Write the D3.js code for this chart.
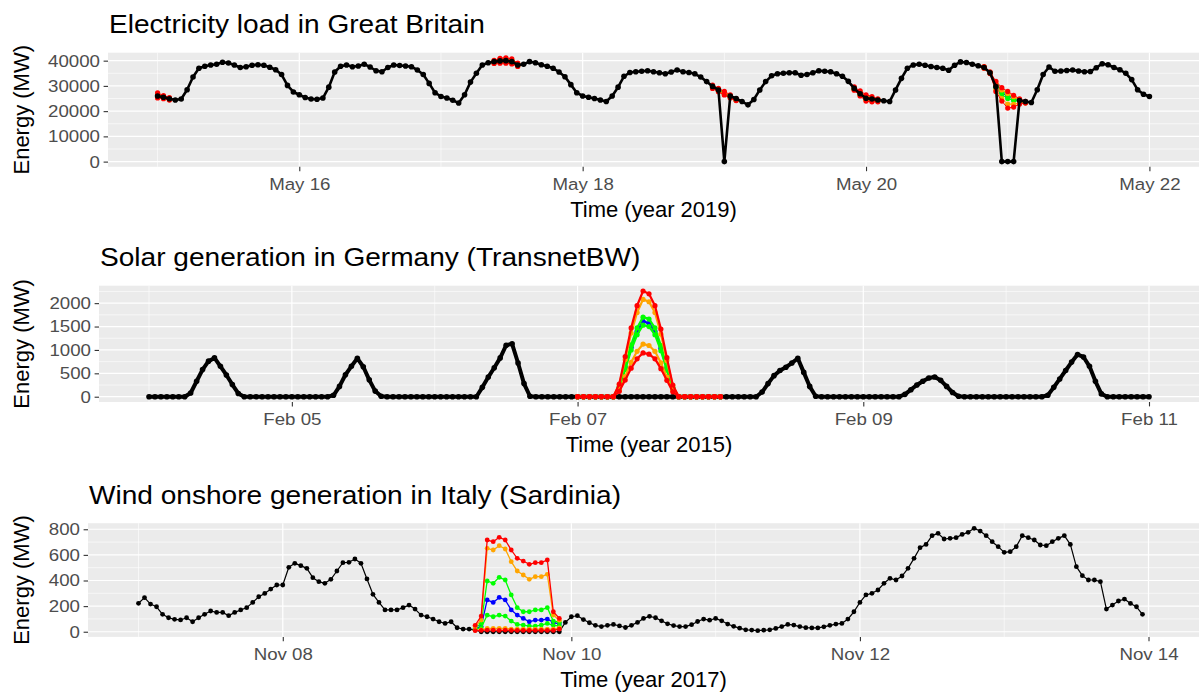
<!DOCTYPE html>
<html>
<head>
<meta charset="utf-8">
<title>Energy forecasts</title>
<script src="https://cdn.jsdelivr.net/npm/d3@7"></script>
<style>
  body { margin: 0; background: #fff; }
  text { font-family: "Liberation Sans", Arial, sans-serif; }
</style>
</head>
<body>
<div id="chart"></div>
<script>
// quantile colours, outer high -> median -> outer low
var quantileColors = ["#ff0000", "#ffa500", "#00ff00", "#0000ff", "#00ff00", "#ffa500", "#ff0000"];

// Great Britain load, hourly from 2019-05-15 00:00
var gbStart = "2019-05-15T00:00:00Z";
var gbLoad = [
  26000, 25500, 24900, 24400, 24800, 28500, 33500, 37000, 37800, 38300, 38600, 39400, 39100, 38300, 37300, 37600, 38200, 38400, 38200, 37400, 36400, 34500, 30200, 27600,
  26500, 25400, 24800, 24700, 25200, 29500, 35500, 37800, 38300, 37600, 37900, 38600, 37500, 36000, 35600, 37300, 38300, 38100, 37900, 37600, 36300, 34500, 31000, 27300,
  25800, 25200, 24300, 23200, 26500, 31500, 35000, 38300, 39200, 39600, 39900, 40000, 39600, 38300, 38600, 39600, 39200, 38400, 37800, 37000, 35500, 33600, 30500, 27300,
  26000, 25500, 25000, 24400, 23800, 26000, 29500, 33800, 35300, 35600, 35800, 36000, 35600, 35200, 34800, 35500, 36300, 35600, 35300, 34800, 33500, 31700, 29800, 28400,
  0, 26000, 25000, 23800, 22500, 24600, 28400, 31700, 34000, 34800, 35000, 35200, 35200, 34200, 34500, 35200, 36000, 35800, 35600, 34800, 33800, 31800, 29000, 26900,
  25100, 24800, 24400, 24100, 23800, 28400, 33000, 37000, 38300, 38600, 38200, 37700, 37300, 37000, 36200, 38200, 39500, 39300, 38600, 38000, 37300, 35200, 29700, 0,
  0, 0, 24200, 23800, 23400, 28500, 34500, 37500, 35800, 35900, 36100, 36300, 35900, 35600, 35700, 37200, 38800, 38400, 37300, 36400, 35000, 32500, 28500, 26700, 25800
];
// [hour, q_hi3, q_hi2, q_hi1, median, q_lo1, q_lo2, q_lo3]
var gbQuant = [
  [0, 27200, 26800, 26400, 26100, 25800, 25500, 25200],
  [1, 26200, 25900, 25700, 25500, 25300, 25100, 24900],
  [2, 25400, 25200, 25000, 24900, 24800, 24600, 24400],
  [57, 40100, 39900, 39700, 39500, 39300, 39100, 38900],
  [58, 40900, 40600, 40200, 39900, 39600, 39300, 39000],
  [59, 41100, 40800, 40400, 40000, 39700, 39300, 39000],
  [60, 40700, 40300, 40000, 39600, 39300, 39000, 38700],
  [61, 39000, 38800, 38500, 38300, 38100, 37900, 37700],
  [94, 30300, 30000, 29800, 29600, 29400, 29200, 29000],
  [95, 29000, 28700, 28500, 28300, 28100, 27900, 27700],
  [96, 27800, 27500, 27200, 27000, 26800, 26600, 26400],
  [97, 26500, 26200, 26000, 25800, 25600, 25400, 25200],
  [98, 25000, 24800, 24600, 24500, 24400, 24300, 24200],
  [118, 29600, 29300, 29100, 28900, 28700, 28500, 28300],
  [119, 28000, 27600, 27200, 26900, 26600, 26300, 26000],
  [120, 26500, 26000, 25500, 25100, 24700, 24300, 24000],
  [121, 25800, 25300, 24900, 24600, 24300, 24000, 23700],
  [122, 24900, 24700, 24500, 24300, 24100, 23900, 23700],
  [140, 37600, 37500, 37400, 37300, 37200, 37100, 37000],
  [141, 35600, 35400, 35300, 35200, 35100, 35000, 34900],
  [142, 31800, 31000, 30300, 29800, 29300, 28500, 27800],
  [143, 29300, 28400, 27800, 27200, 26500, 25000, 24000],
  [144, 27800, 27000, 26400, 25800, 25000, 22800, 21200],
  [145, 26300, 25700, 25200, 24700, 24200, 22700, 21600],
  [146, 24900, 24500, 24300, 24100, 23900, 23300, 22800],
  [147, 23900, 23700, 23600, 23500, 23400, 23300, 23200]
];

// TransnetBW solar, hourly from 2015-02-04 00:00
var deStart = "2015-02-04T00:00:00Z";
var deSolar = [
  0, 0, 0, 0, 0, 0, 0, 80, 330, 580, 760, 830, 650, 465, 260, 70, 0, 0, 0, 0, 0, 0, 0, 0,
  0, 0, 0, 0, 0, 0, 0, 30, 220, 470, 650, 820, 640, 360, 120, 10, 0, 0, 0, 0, 0, 0, 0, 0,
  0, 0, 0, 0, 0, 0, 0, 0, 200, 420, 620, 830, 1100, 1130, 720, 280, 10, 0, 0, 0, 0, 0, 0, 0,
  0, 0, 0, 0, 0, 0, 0, 0, 0, 0, 0, 0, 0, 0, 0, 0, 0, 0, 0, 0, 0, 0, 0, 0,
  0, 0, 0, 0, 0, 0, 0, 100, 280, 450, 560, 630, 720, 820, 520, 220, 10, 0, 0, 0, 0, 0, 0, 0,
  0, 0, 0, 0, 0, 0, 0, 50, 150, 250, 330, 400, 420, 350, 220, 90, 10, 0, 0, 0, 0, 0, 0, 0,
  0, 0, 0, 0, 0, 0, 0, 30, 200, 380, 560, 740, 900, 850, 650, 330, 60, 0, 0, 0, 0, 0, 0, 0, 0
];
var deQuant = [
  [72, 0, 0, 0, 0, 0, 0, 0], [73, 0, 0, 0, 0, 0, 0, 0], [74, 0, 0, 0, 0, 0, 0, 0],
  [75, 0, 0, 0, 0, 0, 0, 0], [76, 0, 0, 0, 0, 0, 0, 0], [77, 0, 0, 0, 0, 0, 0, 0],
  [78, 0, 0, 0, 0, 0, 0, 0],
  [79, 270, 250, 205, 195, 185, 135, 115],
  [80, 860, 795, 650, 615, 585, 430, 355],
  [81, 1470, 1360, 1110, 1055, 1000, 735, 610],
  [82, 1945, 1800, 1470, 1395, 1325, 970, 810],
  [83, 2260, 2080, 1700, 1610, 1530, 1125, 935],
  [84, 2200, 2030, 1660, 1570, 1500, 1095, 910],
  [85, 1945, 1800, 1470, 1395, 1325, 970, 810],
  [86, 1445, 1340, 1095, 1035, 985, 725, 600],
  [87, 835, 775, 635, 600, 570, 420, 350],
  [88, 250, 230, 190, 180, 170, 125, 105],
  [89, 0, 0, 0, 0, 0, 0, 0], [90, 0, 0, 0, 0, 0, 0, 0], [91, 0, 0, 0, 0, 0, 0, 0],
  [92, 0, 0, 0, 0, 0, 0, 0], [93, 0, 0, 0, 0, 0, 0, 0], [94, 0, 0, 0, 0, 0, 0, 0],
  [95, 0, 0, 0, 0, 0, 0, 0], [96, 0, 0, 0, 0, 0, 0, 0]
];

// Sardinia onshore wind, hourly from 2017-11-07 00:00
var itStart = "2017-11-07T00:00:00Z";
var itWind = [
  222, 266, 216, 195, 136, 109, 97, 92, 109, 78, 109, 136, 162, 151, 151, 125, 151, 170, 188, 229, 273, 299, 333, 365,
  365, 503, 534, 516, 495, 422, 391, 378, 409, 474, 539, 542, 568, 534, 412, 292, 229, 170, 170, 170, 188, 208, 177, 130,
  117, 99, 78, 65, 78, 31, 21, 21, 13, 0, 0, 0, 0, 0, 0, 0, 0, 0, 0, 0, 0, 0, 0, 73,
  117, 125, 95, 70, 50, 40, 50, 57, 45, 33, 50, 73, 104, 120, 109, 85, 62, 48, 40, 40, 55, 80, 99, 90,
  104, 85, 60, 42, 28, 15, 13, 8, 12, 15, 26, 40, 57, 52, 40, 32, 30, 30, 38, 50, 60, 65, 99, 156,
  229, 287, 300, 326, 378, 417, 404, 435, 495, 573, 656, 682, 750, 768, 724, 729, 734, 760, 776, 807, 786, 750, 703, 664,
  620, 625, 664, 750, 734, 716, 677, 672, 703, 729, 750, 682, 508, 438, 404, 404, 391, 177, 208, 240, 255, 221, 195, 136
];
var itQuant = [
  [56, 50, 40, 30, 25, 20, 12, 8],
  [57, 122, 91, 65, 40, 30, 15, 10],
  [58, 716, 651, 396, 248, 130, 26, 13],
  [59, 703, 638, 378, 229, 117, 26, 13],
  [60, 737, 672, 425, 268, 130, 26, 10],
  [61, 716, 646, 404, 248, 122, 26, 13],
  [62, 638, 547, 287, 170, 83, 20, 10],
  [63, 573, 474, 188, 130, 57, 20, 10],
  [64, 552, 443, 156, 104, 52, 20, 10],
  [65, 526, 409, 156, 78, 44, 20, 10],
  [66, 539, 430, 170, 91, 44, 20, 10],
  [67, 539, 430, 170, 91, 52, 20, 10],
  [68, 560, 448, 188, 99, 65, 20, 10],
  [69, 156, 130, 83, 73, 50, 20, 10],
  [70, 104, 90, 75, 60, 45, 30, 20]
];

var gbYTicks = [0, 10000, 20000, 30000, 40000];
var deYTicks = [0, 500, 1000, 1500, 2000];
var itYTicks = [0, 200, 400, 600, 800];

// panel layout
var panels = [
  { title: "Electricity load in Great Britain", xTitle: "Time (year 2019)", start: gbStart, actual: gbLoad, quant: gbQuant,
    yTicks: gbYTicks, left: 108, top: 52.7, bottom: 166.8, lineW: 2.6, dotR: 2.8, qLineW: 1, qDotR: 2.6, quantOnTop: false },
  { title: "Solar generation in Germany (TransnetBW)", xTitle: "Time (year 2015)", start: deStart, actual: deSolar, quant: deQuant,
    yTicks: deYTicks, left: 99, top: 285.7, bottom: 402, lineW: 4, dotR: 2.8, qLineW: 2.2, qDotR: 2.6, quantOnTop: true },
  { title: "Wind onshore generation in Italy (Sardinia)", xTitle: "Time (year 2017)", start: itStart, actual: itWind, quant: itQuant,
    yTicks: itYTicks, left: 88, top: 523.2, bottom: 636.9, lineW: 1.2, dotR: 2.4, qLineW: 1.3, qDotR: 2.4, quantOnTop: true }
];
var panelRight = 1199;
var DAY = 864e5;

var svg = d3.select("#chart").append("svg")
  .attr("width", 1200)
  .attr("height", 693);

panels.forEach(function(p) {
  var t0 = new Date(p.start);
  var x = d3.scaleUtc()
    .domain([new Date(t0.getTime() - 0.35 * DAY), new Date(t0.getTime() + 7.35 * DAY)])
    .range([p.left, panelRight]);

  var vals = p.actual.slice();
  p.quant.forEach(function(r) { vals = vals.concat(r.slice(1)); });
  var lo = d3.min(vals), hi = d3.max(vals), pad = (hi - lo) * 0.05;
  var y = d3.scaleLinear().domain([lo - pad, hi + pad]).range([p.bottom, p.top]);

  var step = p.yTicks[1] - p.yTicks[0];
  var yMinor = p.yTicks.map(function(v) { return v + step / 2; })
    .filter(function(v) { return v < hi + pad; });
  var xMajor = [1, 3, 5, 7].map(function(d) { return new Date(t0.getTime() + d * DAY); });
  var xMinor = [0, 2, 4, 6].map(function(d) { return new Date(t0.getTime() + d * DAY); });

  var g = svg.append("g");
  g.append("rect")
    .attr("x", p.left).attr("y", p.top)
    .attr("width", panelRight - p.left).attr("height", p.bottom - p.top)
    .attr("fill", "#ebebeb");

  // grid
  g.selectAll(".hmin").data(yMinor).enter().append("line")
    .attr("x1", p.left).attr("x2", panelRight)
    .attr("y1", y).attr("y2", y)
    .attr("stroke", "#fff").attr("stroke-width", 0.6);
  g.selectAll(".vmin").data(xMinor).enter().append("line")
    .attr("x1", x).attr("x2", x)
    .attr("y1", p.top).attr("y2", p.bottom)
    .attr("stroke", "#fff").attr("stroke-width", 0.6);
  g.selectAll(".hmaj").data(p.yTicks).enter().append("line")
    .attr("x1", p.left).attr("x2", panelRight)
    .attr("y1", y).attr("y2", y)
    .attr("stroke", "#fff").attr("stroke-width", 1.2);
  g.selectAll(".vmaj").data(xMajor).enter().append("line")
    .attr("x1", x).attr("x2", x)
    .attr("y1", p.top).attr("y2", p.bottom)
    .attr("stroke", "#fff").attr("stroke-width", 1.2);

  var actualPts = p.actual.map(function(v, i) { return { t: new Date(t0.getTime() + i * 36e5), v: v }; });
  var line = d3.line().x(function(d) { return x(d.t); }).y(function(d) { return y(d.v); });

  function drawActual() {
    g.append("path").datum(actualPts)
      .attr("d", line)
      .attr("fill", "none").attr("stroke", "#000")
      .attr("stroke-width", p.lineW).attr("stroke-linejoin", "round");
    g.selectAll(null).data(actualPts).enter().append("circle")
      .attr("cx", function(d) { return x(d.t); })
      .attr("cy", function(d) { return y(d.v); })
      .attr("r", p.dotR).attr("fill", "#000");
  }

  function drawQuant() {
    // split rows into runs of consecutive hours
    var runs = [], cur = [];
    p.quant.forEach(function(r, i) {
      if (i > 0 && r[0] - p.quant[i - 1][0] > 1) { runs.push(cur); cur = []; }
      cur.push(r);
    });
    if (cur.length) runs.push(cur);
    [3, 2, 4, 1, 5, 0, 6].forEach(function(q) {
      runs.forEach(function(run) {
        var pts = run.map(function(r) { return { t: new Date(t0.getTime() + r[0] * 36e5), v: r[q + 1] }; });
        g.append("path").datum(pts)
          .attr("d", line)
          .attr("fill", "none").attr("stroke", quantileColors[q])
          .attr("stroke-width", p.qLineW);
        g.selectAll(null).data(pts).enter().append("circle")
          .attr("cx", function(d) { return x(d.t); })
          .attr("cy", function(d) { return y(d.v); })
          .attr("r", p.qDotR).attr("fill", quantileColors[q]);
      });
    });
  }

  if (p.quantOnTop) { drawActual(); drawQuant(); }
  else { drawQuant(); drawActual(); }

  // axes
  var yAxis = g.append("g")
    .attr("transform", "translate(" + p.left + ",0)")
    .call(d3.axisLeft(y).tickValues(p.yTicks).tickSize(4.4).tickPadding(2.9).tickFormat(d3.format("d")));
  var xAxis = g.append("g")
    .attr("transform", "translate(0," + p.bottom + ")")
    .call(d3.axisBottom(x).tickValues(xMajor).tickSize(4.4).tickPadding(7).tickFormat(d3.utcFormat("%b %d")));
  [yAxis, xAxis].forEach(function(ax) {
    ax.select(".domain").remove();
    ax.selectAll(".tick line").attr("stroke", "#333").attr("stroke-width", 1.1);
    ax.selectAll(".tick text")
      .attr("fill", "#4d4d4d")
      .attr("font-size", 17)
      .attr("font-family", "Liberation Sans, Arial, sans-serif")
      .attr("transform", "scale(1.1,1)");
  });

  // titles
  g.append("text")
    .attr("transform", "translate(" + (p.left + 1) + "," + (p.top - 19.5) + ") scale(1.08,1)")
    .attr("font-size", 26)
    .attr("fill", "#000")
    .text(p.title);
  g.append("text")
    .attr("transform", "translate(" + ((p.left + panelRight) / 2) + "," + (p.bottom + 49.8) + ")")
    .attr("text-anchor", "middle")
    .attr("font-size", 22)
    .attr("fill", "#000")
    .text(p.xTitle);
  g.append("text")
    .attr("transform", "translate(29," + ((p.top + p.bottom) / 2) + ") rotate(-90)")
    .attr("text-anchor", "middle")
    .attr("font-size", 22)
    .attr("fill", "#000")
    .text("Energy (MW)");
});
</script>
</body>
</html>
